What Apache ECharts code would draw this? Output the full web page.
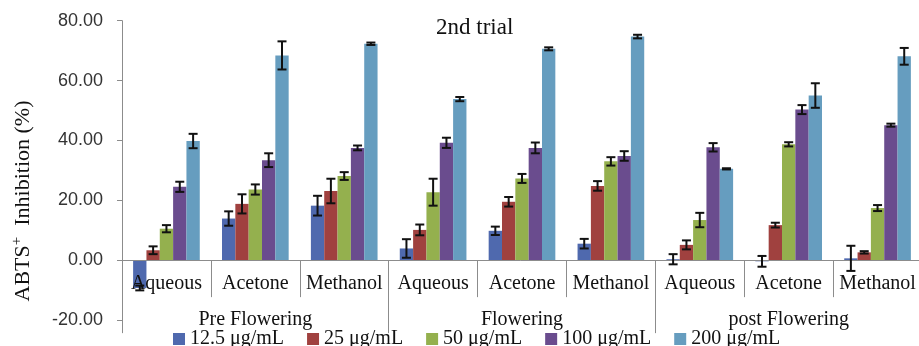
<!DOCTYPE html>
<html><head><meta charset="utf-8">
<script src="https://cdn.jsdelivr.net/npm/echarts@6/dist/echarts.min.js"></script>
<style>html,body{margin:0;padding:0;background:#fff}#c{width:919px;height:346px}</style>
</head><body><div id="c"></div>
<script>
const categories = ['Aqueous','Acetone','Methanol','Aqueous','Acetone','Methanol','Aqueous','Acetone','Methanol'];
const stages = ['Pre Flowering','Flowering','post Flowering'];
const seriesNames = ['12.5 μg/mL','25 μg/mL','50 μg/mL','100 μg/mL','200 μg/mL'];
const v12_5 = [-9.3, 13.9, 18.2, 3.9, 9.8, 5.5, 0.3, -0.4, 0.6];
const e12_5 = [0.8, 2.4, 3.3, 3.1, 1.4, 1.6, 1.7, 1.8, 4.2];
const v25 = [3.3, 18.8, 23.1, 10.1, 19.5, 24.8, 5.1, 11.7, 2.6];
const e25 = [1.3, 3.2, 4.1, 1.8, 1.6, 1.6, 1.5, 0.8, 0.4];
const v50 = [10.5, 23.6, 28.1, 22.7, 27.3, 33.0, 13.4, 38.7, 17.4];
const e50 = [1.2, 1.7, 1.3, 4.5, 1.5, 1.4, 2.4, 0.7, 1.0];
const v100 = [24.5, 33.4, 37.5, 39.2, 37.5, 34.8, 37.7, 50.3, 45.1];
const e100 = [1.7, 2.3, 0.8, 1.7, 1.8, 1.6, 1.4, 1.5, 0.5];
const v200 = [39.8, 68.4, 72.3, 53.8, 70.6, 74.7, 30.5, 55.0, 68.1];
const e200 = [2.4, 4.7, 0.4, 0.7, 0.5, 0.6, 0.2, 4.1, 2.8];
const yMin = -20, yMax = 80, yStep = 20;

const values = [v12_5, v25, v50, v100, v200];
const errors = [e12_5, e25, e50, e100, e200];
const colors = ['#4f69ae', '#a0413f', '#94b04e', '#6a4c8e', '#669dbf'];
const catGap = 0.25;
const serif = 'Liberation Serif';
const axisGray = '#8c8c8c';

const barSeries = values.map((vals, s) => ({
  name: seriesNames[s], type: 'bar', data: vals, xAxisIndex: 0, yAxisIndex: 0,
  itemStyle: { color: colors[s] },
  barGap: '0%', barCategoryGap: (catGap * 100) + '%', z: 2
}));

const errSeries = values.map((vals, s) => ({
  name: 'err' + s, type: 'custom', z: 20, xAxisIndex: 0, yAxisIndex: 0,
  data: vals.map((v, i) => [i, v - errors[s][i], v + errors[s][i]]),
  encode: { x: 0, y: [1, 2] },
  renderItem: function (params, api) {
    const i = api.value(0);
    const band = api.size([1, 0])[0];
    const bw = band * (1 - catGap) / values.length;
    const cx = api.coord([i, 0])[0] + (s - (values.length - 1) / 2) * bw;
    const lo = api.coord([i, api.value(1)])[1];
    const hi = api.coord([i, api.value(2)])[1];
    const hw = 4.5;
    const st = { stroke: '#111', lineWidth: 2 };
    return { type: 'group', children: [
      { type: 'line', shape: { x1: cx, y1: lo, x2: cx, y2: hi }, style: st },
      { type: 'line', shape: { x1: cx - hw, y1: lo, x2: cx + hw, y2: lo }, style: st },
      { type: 'line', shape: { x1: cx - hw, y1: hi, x2: cx + hw, y2: hi }, style: st }
    ]};
  }
}));

// grid 1 ends where value 0 sits on the main value axis
const gridTop = 20.7, gridH = 299.3;
const zeroH = gridH * (yMax - 0) / (yMax - yMin);

const chart = echarts.init(document.getElementById('c'), null, { renderer: 'canvas' });
chart.setOption({
  animation: false,
  backgroundColor: '#fff',
  title: { text: '2nd trial', left: 431, top: 11,
    textStyle: { fontFamily: serif, fontSize: 23, fontWeight: 'normal', color: '#111' } },
  legend: {
    data: seriesNames, left: 168, top: 324, itemWidth: 12, itemHeight: 12, itemGap: 23,
    icon: 'rect',
    textStyle: { fontFamily: serif, fontSize: 20, color: '#111' }
  },
  grid: [
    { left: 122, width: 800, top: gridTop, height: gridH, containLabel: false, outerBoundsMode: 'none' },
    { left: 122, width: 800, top: gridTop, height: zeroH, containLabel: false, outerBoundsMode: 'none' }
  ],
  xAxis: [{
    type: 'category', data: categories, gridIndex: 0, show: false
  }, {
    type: 'category', data: categories, gridIndex: 1, position: 'bottom', z: 10,
    axisLine: { show: true, onZero: false, lineStyle: { color: axisGray, width: 1 } },
    axisTick: { show: true, interval: 0, length: 37, lineStyle: { color: axisGray } },
    axisLabel: { interval: 0, margin: 14, fontFamily: serif, fontSize: 20, color: '#111', hideOverlap: false },
    splitLine: { show: false }
  }, {
    type: 'category', data: stages, gridIndex: 1, position: 'bottom', z: 10,
    axisLine: { show: false, onZero: false },
    axisTick: { show: true, interval: 0, length: 73, lineStyle: { color: axisGray } },
    axisLabel: { interval: 0, margin: 50, fontFamily: serif, fontSize: 20, color: '#111' },
    splitLine: { show: false }
  }],
  yAxis: [{
    type: 'value', min: yMin, max: yMax, interval: yStep, gridIndex: 0,
    axisLine: { show: true, lineStyle: { color: axisGray } },
    axisTick: { show: true, length: 5, lineStyle: { color: axisGray } },
    axisLabel: { margin: 19, fontFamily: 'Liberation Sans', fontSize: 18, color: '#333',
      formatter: v => v.toFixed(2) },
    splitLine: { show: false }
  }, {
    type: 'value', min: 0, max: yMax, gridIndex: 1, show: false
  }],
  graphic: [{
    type: 'text', x: 23, y: 201, rotation: Math.PI / 2,
    style: {
      text: '{a|ABTS}{s|+}{a|  Inhibition (%)}',
      align: 'center', verticalAlign: 'middle', textAlign: 'center', textVerticalAlign: 'middle',
      fill: '#111',
      rich: {
        a: { fontFamily: serif, fontSize: 22, lineHeight: 26, fill: '#111', color: '#111' },
        s: { fontFamily: serif, fontSize: 15, lineHeight: 26, verticalAlign: 'top', fill: '#111', color: '#111' }
      }
    }
  }],
  series: barSeries.concat(errSeries)
});
</script></body></html>
